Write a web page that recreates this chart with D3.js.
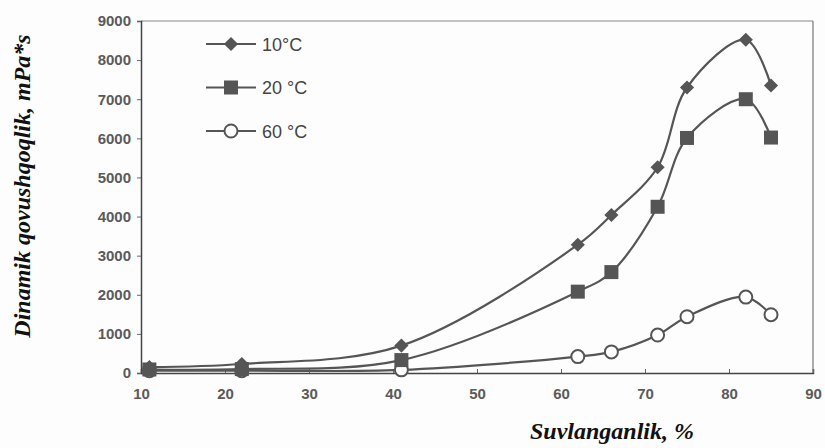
<!DOCTYPE html>
<html>
<head>
<meta charset="utf-8">
<script src="https://cdn.jsdelivr.net/npm/d3@7"></script>
<style>
  body { margin: 0; background: #fdfdfd; }
  svg { display: block; }
  .tick text { font-family: "Liberation Sans", Arial, sans-serif; font-weight: bold; font-size: 15px; fill: #5a5a5a; }
  .axis-title { font-family: "Liberation Serif", "Times New Roman", serif; font-weight: bold; font-style: italic; font-size: 24px; fill: #111; }
  .legend text { font-family: "Liberation Sans", Arial, sans-serif; font-size: 18px; fill: #444; }
</style>
</head>
<body>
<div class="chart"></div>
<script>
// saturation, %
const xs = [11, 22, 41, 62, 66, 71.5, 75, 82, 85];
// dynamic viscosity, mPa*s
const t10 = [150, 230, 700, 3280, 4040, 5260, 7300, 8520, 7350];
const t20 = [90, 100, 330, 2080, 2580, 4250, 6010, 7000, 6020];
const t60 = [60, 60, 80, 420, 540, 970, 1440, 1940, 1490];

const seriesNames = ['10°C', '20 °C', '60 °C'];
const xTicks = [10, 20, 30, 40, 50, 60, 70, 80, 90];
const yTicks = [0, 1000, 2000, 3000, 4000, 5000, 6000, 7000, 8000, 9000];

const width = 825, height = 448;
const margin = {top: 21, right: 12, bottom: 75, left: 141};
const grey = '#555';

const svg = d3.select('.chart').append('svg')
  .attr('width', width)
  .attr('height', height);

const x = d3.scaleLinear().domain([10, 90]).range([margin.left, width - margin.right]);
const y = d3.scaleLinear().domain([0, 9000]).range([height - margin.bottom, margin.top]);

// frame
svg.append('line')
  .attr('x1', x(10)).attr('x2', x(90))
  .attr('y1', y(9000)).attr('y2', y(9000))
  .attr('stroke', '#888').attr('stroke-width', 1.2);
svg.append('line')
  .attr('x1', x(90)).attr('x2', x(90))
  .attr('y1', y(9000)).attr('y2', y(0))
  .attr('stroke', '#777').attr('stroke-width', 1.2);

const xAxis = svg.append('g')
  .attr('transform', 'translate(0,' + y(0) + ')')
  .call(d3.axisBottom(x).tickValues(xTicks).tickFormat(d3.format('d')).tickSize(-4).tickPadding(15));
const yAxis = svg.append('g')
  .attr('transform', 'translate(' + x(10) + ',0)')
  .call(d3.axisLeft(y).tickValues(yTicks).tickFormat(d3.format('d')).tickSize(4).tickPadding(6));

[xAxis, yAxis].forEach(a => {
  a.select('.domain').attr('stroke', '#444').attr('stroke-width', 1.5);
  a.selectAll('.tick line').attr('stroke', '#666');
});

const series = [
  {name: seriesNames[0], values: t10, marker: 'diamond'},
  {name: seriesNames[1], values: t20, marker: 'square'},
  {name: seriesNames[2], values: t60, marker: 'circle'}
];

const line = d3.line()
  .x(d => x(d[0]))
  .y(d => y(d[1]))
  .curve(d3.curveCatmullRom.alpha(0.5));

const drawMarker = (g, type, cx, cy) => {
  if (type === 'diamond') {
    g.append('rect')
      .attr('x', -5).attr('y', -5)
      .attr('width', 10).attr('height', 10)
      .attr('transform', 'translate(' + cx + ',' + cy + ') rotate(45)')
      .attr('fill', grey);
  } else if (type === 'square') {
    g.append('rect')
      .attr('x', cx - 7).attr('y', cy - 7)
      .attr('width', 14).attr('height', 14)
      .attr('fill', grey);
  } else {
    g.append('circle')
      .attr('cx', cx).attr('cy', cy).attr('r', 6.5)
      .attr('fill', '#fff')
      .attr('stroke', grey).attr('stroke-width', 2);
  }
};

const plot = svg.append('g');

series.slice().reverse().forEach(s => {
  const pts = xs.map((v, i) => [v, s.values[i]]);
  plot.append('path')
    .attr('d', line(pts))
    .attr('fill', 'none')
    .attr('stroke', grey)
    .attr('stroke-width', 2.2);
  const mg = plot.append('g');
  pts.forEach(p => drawMarker(mg, s.marker, x(p[0]), y(p[1])));
});

// legend
const legend = svg.append('g').attr('class', 'legend');
series.forEach((s, i) => {
  const ly = 44 + i * 43.5;
  legend.append('line')
    .attr('x1', 206).attr('x2', 256)
    .attr('y1', ly).attr('y2', ly)
    .attr('stroke', grey).attr('stroke-width', 2.2);
  drawMarker(legend, s.marker, 231, ly);
  legend.append('text')
    .attr('x', 262).attr('y', ly + 6.5)
    .text(s.name);
});

// axis titles
svg.append('text')
  .attr('class', 'axis-title')
  .attr('x', 612).attr('y', 439)
  .attr('text-anchor', 'middle')
  .text('Suvlanganlik, %');

svg.append('text')
  .attr('class', 'axis-title')
  .attr('transform', 'translate(30,186) rotate(-90)')
  .attr('text-anchor', 'middle')
  .text('Dinamik qovushqoqlik, mPa*s');
</script>
</body>
</html>
